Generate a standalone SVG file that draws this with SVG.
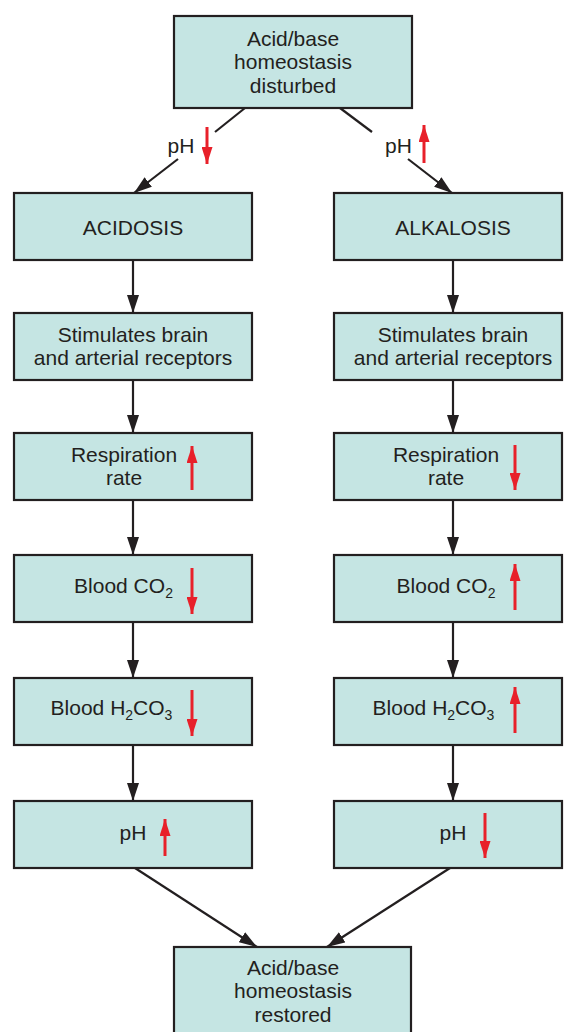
<svg xmlns="http://www.w3.org/2000/svg" width="564" height="1032" viewBox="0 0 564 1032">
<defs>
<style>
.box{fill:#c5e5e3;stroke:#231f20;stroke-width:2.2}
.t{font-family:"Liberation Sans",Arial,sans-serif;font-size:21px;fill:#231f20;text-anchor:middle}
.sub{font-size:14px}
.conn{stroke:#231f20;stroke-width:2.2;fill:none}
.arr{marker-end:url(#ah)}
.red{stroke:#e8202a;stroke-width:3;fill:none;marker-end:url(#rh)}
</style>
<marker id="ah" markerUnits="userSpaceOnUse" markerWidth="18" markerHeight="12" refX="18" refY="6" orient="auto">
<path d="M0,0 L18,6 L0,12 z" fill="#231f20"/>
</marker>
<marker id="rh" markerUnits="userSpaceOnUse" markerWidth="17" markerHeight="11" refX="17" refY="5.5" orient="auto">
<path d="M0,0 L17,5.5 L0,11 z" fill="#e8202a"/>
</marker>
</defs>
<rect width="564" height="1032" fill="#ffffff"/>

<g id="connectors">
<line class="conn" x1="245" y1="108" x2="215" y2="132"/>
<line class="conn arr" x1="178" y1="159" x2="134" y2="193"/>
<line class="conn" x1="340" y1="108" x2="372" y2="132"/>
<line class="conn arr" x1="408" y1="159" x2="452" y2="193"/>
<line class="conn arr" x1="133" y1="260" x2="133" y2="313"/>
<line class="conn arr" x1="133" y1="380" x2="133" y2="433"/>
<line class="conn arr" x1="133" y1="500" x2="133" y2="555"/>
<line class="conn arr" x1="133" y1="622" x2="133" y2="678"/>
<line class="conn arr" x1="133" y1="745" x2="133" y2="801"/>
<line class="conn arr" x1="453" y1="260" x2="453" y2="313"/>
<line class="conn arr" x1="453" y1="380" x2="453" y2="433"/>
<line class="conn arr" x1="453" y1="500" x2="453" y2="555"/>
<line class="conn arr" x1="453" y1="622" x2="453" y2="678"/>
<line class="conn arr" x1="453" y1="745" x2="453" y2="801"/>
<line class="conn arr" x1="135" y1="868" x2="257" y2="947"/>
<line class="conn arr" x1="450" y1="868" x2="327" y2="947"/>
</g>

<g id="ph-labels">
<text class="t" x="181" y="153">pH</text>
<line class="red" x1="207" y1="127" x2="207" y2="164"/>
<text class="t" x="398.5" y="153">pH</text>
<line class="red" x1="424" y1="163" x2="424" y2="125"/>
</g>

<g id="top">
<rect class="box" x="174" y="16" width="238" height="92"/>
<text class="t" x="293" y="45.5">Acid/base</text>
<text class="t" x="293" y="69">homeostasis</text>
<text class="t" x="293" y="92.5">disturbed</text>
</g>

<g id="acidosis">
<rect class="box" x="14" y="193" width="238" height="67"/>
<text class="t" x="133" y="235">ACIDOSIS</text>
</g>
<g id="alkalosis">
<rect class="box" x="334" y="193" width="228" height="67"/>
<text class="t" x="453" y="235">ALKALOSIS</text>
</g>

<g id="stim-left">
<rect class="box" x="14" y="313" width="238" height="67"/>
<text class="t" x="133" y="342">Stimulates brain</text>
<text class="t" x="133" y="365">and arterial receptors</text>
</g>
<g id="stim-right">
<rect class="box" x="334" y="313" width="228" height="67"/>
<text class="t" x="453" y="342">Stimulates brain</text>
<text class="t" x="453" y="365">and arterial receptors</text>
</g>

<g id="resp-left">
<rect class="box" x="14" y="433" width="238" height="67"/>
<text class="t" x="124" y="462">Respiration</text>
<text class="t" x="124" y="485">rate</text>
<line class="red" x1="192" y1="490" x2="192" y2="446"/>
</g>
<g id="resp-right">
<rect class="box" x="334" y="433" width="228" height="67"/>
<text class="t" x="446" y="462">Respiration</text>
<text class="t" x="446" y="485">rate</text>
<line class="red" x1="515" y1="445" x2="515" y2="490"/>
</g>

<g id="co2-left">
<rect class="box" x="14" y="555" width="238" height="67"/>
<text class="t" x="123.5" y="593">Blood CO<tspan class="sub" dy="5">2</tspan></text>
<line class="red" x1="192" y1="568" x2="192" y2="614"/>
</g>
<g id="co2-right">
<rect class="box" x="334" y="555" width="228" height="67"/>
<text class="t" x="446" y="593">Blood CO<tspan class="sub" dy="5">2</tspan></text>
<line class="red" x1="515" y1="610" x2="515" y2="564"/>
</g>

<g id="h2co3-left">
<rect class="box" x="14" y="678" width="238" height="67"/>
<text class="t" x="111.5" y="715">Blood H<tspan class="sub" dy="5">2</tspan><tspan dy="-5">CO</tspan><tspan class="sub" dy="5">3</tspan></text>
<line class="red" x1="192" y1="690" x2="192" y2="736"/>
</g>
<g id="h2co3-right">
<rect class="box" x="334" y="678" width="228" height="67"/>
<text class="t" x="433.5" y="715">Blood H<tspan class="sub" dy="5">2</tspan><tspan dy="-5">CO</tspan><tspan class="sub" dy="5">3</tspan></text>
<line class="red" x1="515" y1="733" x2="515" y2="687"/>
</g>

<g id="ph-left">
<rect class="box" x="14" y="801" width="238" height="67"/>
<text class="t" x="133" y="840">pH</text>
<line class="red" x1="165" y1="856" x2="165" y2="819"/>
</g>
<g id="ph-right">
<rect class="box" x="334" y="801" width="228" height="67"/>
<text class="t" x="453" y="840">pH</text>
<line class="red" x1="485" y1="813" x2="485" y2="858"/>
</g>

<g id="bottom">
<rect class="box" x="174" y="947" width="237" height="100"/>
<text class="t" x="293" y="975">Acid/base</text>
<text class="t" x="293" y="998">homeostasis</text>
<text class="t" x="293" y="1022">restored</text>
</g>
</svg>
